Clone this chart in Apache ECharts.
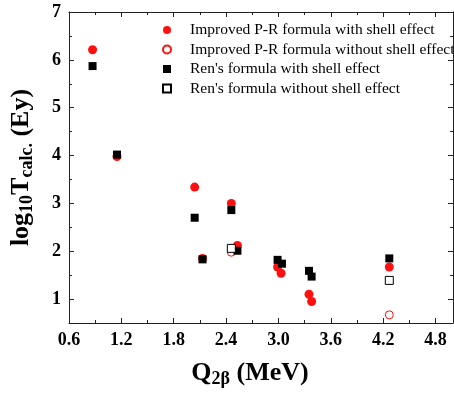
<!DOCTYPE html>
<html>
<head>
<meta charset="utf-8">
<script src="https://cdn.jsdelivr.net/npm/echarts@6/dist/echarts.min.js"></script>
<style>
html,body{margin:0;padding:0;background:#fff;}
#chart{width:454px;height:396px;}
</style>
</head>
<body>
<div id="chart"></div>
<script>
var seriesNames = [
  'Improved P-R formula with shell effect',
  'Improved P-R formula without shell effect',
  "Ren's formula with shell effect",
  "Ren's formula without shell effect"
];
var prWithShell = [[0.87,6.21],[1.15,3.98],[2.04,3.34],[2.13,1.85],[2.46,3.00],[2.53,2.12],[2.99,1.67],[3.03,1.54],[3.35,1.10],[3.38,0.95],[4.27,1.67]];
var prWithoutShell = [[2.46,1.98],[4.27,0.67]];
var renWithShell = [[0.87,5.87],[1.15,4.02],[2.04,2.70],[2.13,1.83],[2.46,2.86],[2.53,2.01],[2.99,1.82],[3.04,1.74],[3.35,1.59],[3.38,1.47],[4.27,1.85]];
var renWithoutShell = [[2.46,2.06],[4.27,1.39]];
var xTicks = [0.6,1.2,1.8,2.4,3.0,3.6,4.2,4.8];
var yTicks = [1,2,3,4,5,6,7];

var serif = "'Liberation Serif','Times New Roman',serif";
var axisColor = '#222';
var richTitle = {
  m: {fontFamily: serif, fontWeight: 'bold', fontSize: 26, lineHeight: 30, color: '#000'},
  s: {fontFamily: serif, fontWeight: 'bold', fontSize: 18, lineHeight: 18, verticalAlign: 'bottom', color: '#000'}
};

function mkX(pos, labels) {
  return {
    type: 'value', position: pos, min: 0.6, max: 5.0, interval: 0.6,
    axisLine: {show: true, onZero: false, lineStyle: {color: axisColor, width: 1}},
    axisTick: {show: true, inside: true, length: 5, lineStyle: {color: axisColor}},
    minorTick: {show: true, splitNumber: 2, length: 3, lineStyle: {color: axisColor}},
    splitLine: {show: false},
    axisLabel: {show: labels, showMaxLabel: false, margin: 8, color: '#000',
      fontFamily: serif, fontWeight: 'bold', fontSize: 18,
      formatter: function (v) { return v.toFixed(1); }},
    name: labels ? '{m|Q}{s|2β}{m| (MeV)}' : '',
    nameLocation: 'middle', nameGap: 35,
    nameTextStyle: {color: '#000', fontFamily: serif, fontWeight: 'bold', padding: [0, 22, 0, 0], rich: richTitle}
  };
}
function mkYMajor(pos, labels) {
  return {
    type: 'value', position: pos, min: 0.5, max: 7, interval: 0.5,
    axisLine: {show: true, onZero: false, lineStyle: {color: axisColor, width: 1}},
    axisTick: {show: true, inside: true, length: 5, customValues: yTicks, lineStyle: {color: axisColor}},
    splitLine: {show: false},
    axisLabel: {show: labels, margin: 8, color: '#000', customValues: yTicks,
      fontFamily: serif, fontWeight: 'bold', fontSize: 18,
      formatter: function (v) { return Math.abs(v - Math.round(v)) < 1e-6 ? String(Math.round(v)) : ''; }},
    name: labels ? '{m|log}{s|10}{m|T}{s|calc.}{m| (Ey)}' : '',
    nameLocation: 'middle', nameGap: 33, nameRotate: 90,
    nameTextStyle: {color: '#000', fontFamily: serif, fontWeight: 'bold', rich: richTitle}
  };
}
function mkYMinor(pos) {
  return {
    type: 'value', position: pos, min: 0.5, max: 7, interval: 0.5,
    axisLine: {show: false, onZero: false},
    axisTick: {show: true, inside: true, length: 3, lineStyle: {color: axisColor}},
    splitLine: {show: false},
    axisLabel: {show: false}
  };
}

var chart = echarts.init(document.getElementById('chart'), null, {renderer: 'canvas'});
chart.setOption({
  animation: false,
  backgroundColor: '#fff',
  grid: {left: 69, right: 1, top: 12, bottom: 73, containLabel: false},
  xAxis: [mkX('bottom', true), mkX('top', false)],
  yAxis: [mkYMajor('left', true), mkYMajor('right', false), mkYMinor('left'), mkYMinor('right')],
  legend: {
    orient: 'vertical', left: 157, top: 17, itemWidth: 8, itemHeight: 8, itemGap: 3.5,
    textStyle: {fontFamily: serif, fontSize: 15.5, color: '#000', padding: [0,0,0,14]},
    data: seriesNames
  },
  series: [
    {name: seriesNames[0], type: 'scatter', data: prWithShell, symbol: 'circle', symbolSize: 9,
      itemStyle: {color: '#ff1010', opacity: 1}},
    {name: seriesNames[1], type: 'scatter', data: prWithoutShell, symbol: 'circle', symbolSize: 8,
      itemStyle: {color: '#fff', borderColor: '#ff1010', borderWidth: 1, opacity: 1}},
    {name: seriesNames[2], type: 'scatter', data: renWithShell, symbol: 'rect', symbolSize: 8,
      itemStyle: {color: '#000', opacity: 1}},
    {name: seriesNames[3], type: 'scatter', data: renWithoutShell, symbol: 'rect', symbolSize: 8,
      itemStyle: {color: '#fff', borderColor: '#000', borderWidth: 1, opacity: 1}}
  ]
});
</script>
</body>
</html>
